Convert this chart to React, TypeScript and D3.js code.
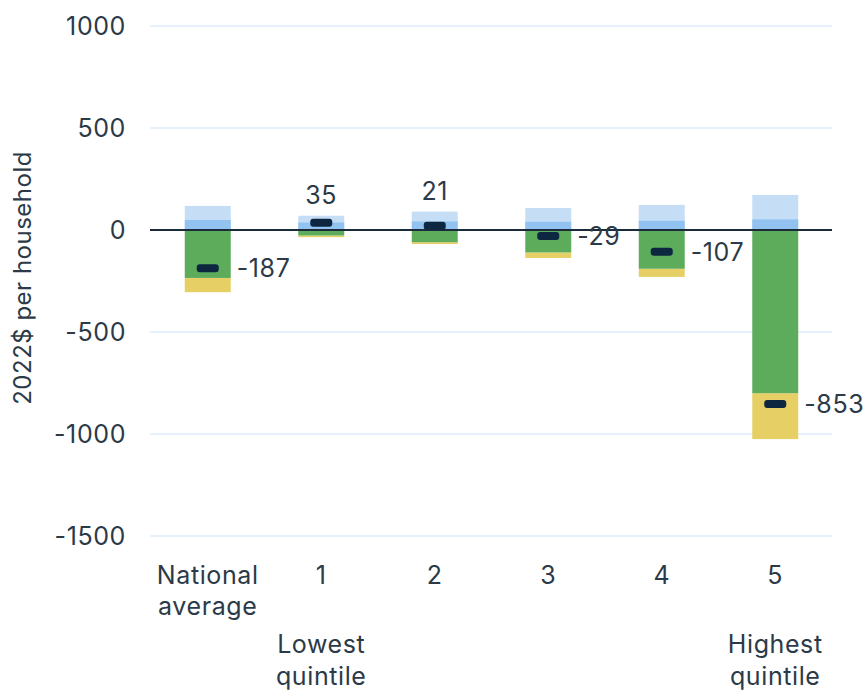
import React from "react";
import * as d3 from "d3";

const categories = ["National average", "1", "2", "3", "4", "5"];
const blueDark = [49, 37, 42, 40, 45, 52];
const blueLight = [118, 70, 90, 108, 123, 172];
const green = [-235, -27, -60, -110, -190, -800];
const yellow = [-305, -35, -69, -137, -230, -1025];
const netValues = [-187, 35, 21, -29, -107, -853];
const yTicks = [1000, 500, 0, -500, -1000, -1500];

const W = 866;
const H = 693;
const FONT = "Inter, 'Open Sans', sans-serif";
const TEXT = "#2c3a48";
const FS = 25;
const LS = 0.6;

export default function App() {
  const x = d3
    .scaleBand<string>()
    .domain(categories)
    .range([151, 832])
    .paddingInner(0.595)
    .paddingOuter(0.2975);
  const y = d3.scaleLinear().domain([-1500, 1000]).range([536, 26]);
  const bw = x.bandwidth();

  return (
    <svg width={W} height={H} style={{ position: "absolute", left: 0, top: 0 }} fontFamily={FONT}>
      <rect width={W} height={H} fill="#fff" />
      {yTicks
        .filter((t) => t !== 0)
        .map((t) => (
          <line key={t} x1={150} x2={832} y1={y(t)} y2={y(t)} stroke="#dfecfa" strokeWidth={1.5} />
        ))}
      {yTicks.map((t) => (
        <text key={t} x={126} y={y(t)} dy="0.36em" textAnchor="end" fontSize={FS} letterSpacing={LS} fill={TEXT}>
          {t}
        </text>
      ))}
      <text
        transform={`translate(31,${y(-235)}) rotate(-90)`}
        textAnchor="middle"
        fontSize={24}
        letterSpacing={0.5}
        fill={TEXT}
      >
        2022$ per household
      </text>
      {categories.map((c, i) => {
        const x0 = x(c)!;
        return (
          <g key={c}>
            <rect x={x0} width={bw} y={y(blueLight[i])} height={y(0) - y(blueLight[i])} fill="#c6ddf6" />
            <rect x={x0} width={bw} y={y(blueDark[i])} height={y(0) - y(blueDark[i])} fill="#92c3f0" />
            <rect x={x0} width={bw} y={y(green[i])} height={y(yellow[i]) - y(green[i])} fill="#e6d066" />
            <rect x={x0} width={bw} y={y(0)} height={y(green[i]) - y(0)} fill="#5cac5c" />
          </g>
        );
      })}
      <line x1={150} x2={832} y1={y(0)} y2={y(0)} stroke="#1b2b3b" strokeWidth={2} />
      {categories.map((c, i) => {
        const cx = x(c)! + bw / 2;
        const v = netValues[i];
        return (
          <g key={c}>
            <rect x={cx - 11} y={y(v) - 4} width={22} height={8} rx={3} fill="#0e2740" />
            {v > 0 ? (
              <text x={cx} y={y(blueLight[i]) - 12} textAnchor="middle" fontSize={FS} letterSpacing={LS} fill={TEXT}>
                {v}
              </text>
            ) : (
              <text x={x(c)! + bw + 6} y={y(v)} dy="0.36em" textAnchor="start" fontSize={FS} letterSpacing={LS} fill={TEXT}>
                {v}
              </text>
            )}
          </g>
        );
      })}
      {categories.map((c) => {
        const cx = x(c)! + bw / 2;
        const lines = c === "National average" ? ["National", "average"] : [c];
        return (
          <text key={c} x={cx} y={584} textAnchor="middle" fontSize={FS} letterSpacing={LS} fill={TEXT}>
            {lines.map((l, j) => (
              <tspan key={j} x={cx} dy={j === 0 ? 0 : 31}>
                {l}
              </tspan>
            ))}
          </text>
        );
      })}
      {[
        { c: "1", lines: ["Lowest", "quintile"] },
        { c: "5", lines: ["Highest", "quintile"] },
      ].map((d) => {
        const cx = x(d.c)! + bw / 2;
        return (
          <text key={d.c} x={cx} y={653} textAnchor="middle" fontSize={FS} letterSpacing={LS} fill={TEXT}>
            {d.lines.map((l, j) => (
              <tspan key={j} x={cx} dy={j === 0 ? 0 : 32}>
                {l}
              </tspan>
            ))}
          </text>
        );
      })}
    </svg>
  );
}
